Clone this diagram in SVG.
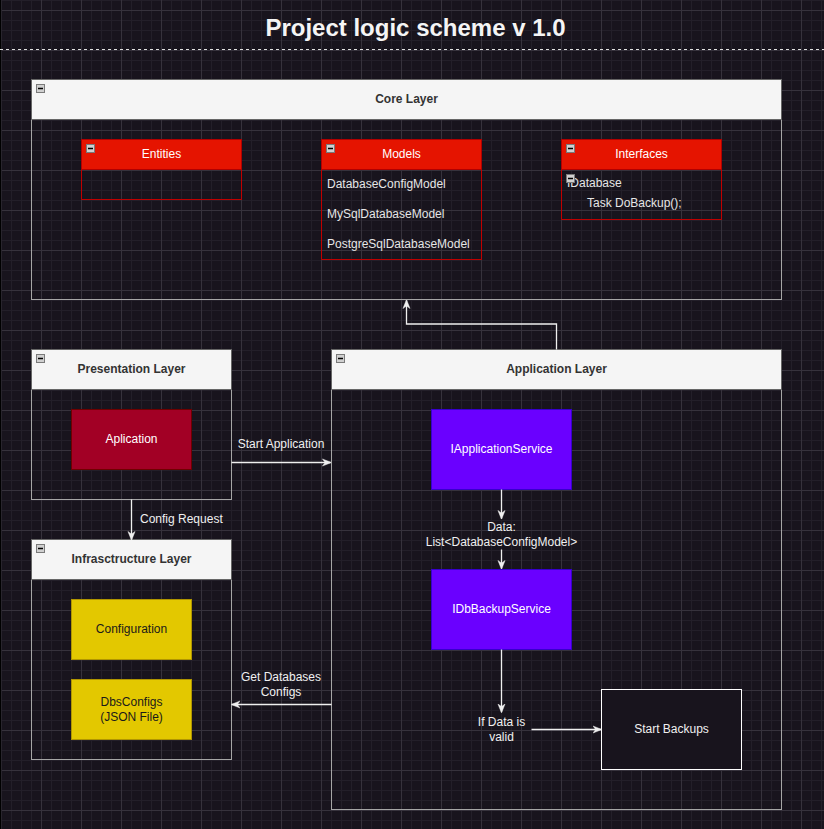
<svg xmlns="http://www.w3.org/2000/svg" width="824" height="829" viewBox="0 0 824 829">
  <defs>
    <!-- background grid: fine lines every 10px, stronger every 40px -->
    <pattern id="gridMinor" width="10" height="10" patternUnits="userSpaceOnUse" x="1" y="0">
      <path d="M0.5,0 V10 M0,0.5 H10" fill="none" stroke="#231f29" stroke-width="1"/>
    </pattern>
    <pattern id="gridMajor" width="40" height="40" patternUnits="userSpaceOnUse" x="1" y="10">
      <path d="M0.5,0 V40 M0,0.5 H40" fill="none" stroke="#36323c" stroke-width="1"/>
    </pattern>
    <marker id="arrow" viewBox="0 0 10 10" refX="9" refY="5" markerWidth="9" markerHeight="9" markerUnits="userSpaceOnUse" orient="auto">
      <path d="M0,1 L10,5 L0,9 L3,5 Z" fill="#f0f0f0" stroke="#f0f0f0" stroke-width="0.5"/>
    </marker>
    <g id="collapse">
      <rect x="0.5" y="0.5" width="8" height="8" fill="#d0d0d0" stroke="#7a7a7a" stroke-width="1"/>
      <path d="M2,4.5 H7" stroke="#000" stroke-width="1.5"/>
    </g>
  </defs>
  <style>
    text { font-family: "Liberation Sans", Arial, Helvetica, sans-serif; font-size: 12px; }
    .title { font-size: 24px; font-weight: bold; fill: #f5f5f5; text-anchor: middle; }
    .lane-body { fill: none; stroke: #a6a6a6; stroke-width: 1; }
    .lane-head { fill: #f5f5f5; stroke: #666666; stroke-width: 1; }
    .lane-title { font-weight: bold; fill: #333333; text-anchor: middle; }
    .cls-head { fill: #e51400; stroke: #b20000; stroke-width: 1; }
    .cls-body { fill: #18141d; fill-opacity: 0; stroke: #c00000; stroke-width: 1; }
    .cls-title { fill: #ffffff; text-anchor: middle; }
    .item { fill: #e6e6e6; }
    .app { fill: #a20025; stroke: #6f0000; }
    .svc { fill: #6a00ff; stroke: #3700cc; }
    .cfg { fill: #e3c800; stroke: #b09500; }
    .dark-box { fill: #18141d; stroke: #ffffff; }
    .light-text { fill: #ffffff; text-anchor: middle; }
    .dark-text { fill: #1a1a1a; text-anchor: middle; }
    .label { fill: #f0f0f0; text-anchor: middle; }
    .edge { fill: none; stroke: #f0f0f0; stroke-width: 1.3; marker-end: url(#arrow); }
  </style>

  <!-- canvas -->
  <rect width="824" height="829" fill="#18141d"/>
  <rect width="824" height="829" fill="url(#gridMinor)"/>
  <rect width="824" height="829" fill="url(#gridMajor)"/>
  <path d="M0.5,0 V829" stroke="#000000" stroke-width="1.5"/>

  <!-- heading -->
  <g id="title">
    <text class="title" x="415.5" y="36">Project logic scheme v 1.0</text>
    <path d="M0,49.5 H824" stroke="#e0e0e0" stroke-width="1" stroke-dasharray="3 3"/>
  </g>

  <!-- Core Layer -->
  <g id="core-layer">
    <rect class="lane-body" x="31.5" y="79.5" width="750" height="220"/>
    <rect class="lane-head" x="31.5" y="79.5" width="750" height="40"/>
    <use href="#collapse" x="36" y="84"/>
    <text class="lane-title" x="406.5" y="103">Core Layer</text>
  </g>

  <g id="entities">
    <path d="M81.5,169.5 V199.5 H241.5 V169.5" fill="none" stroke="#c00000" stroke-width="1"/>
    <rect class="cls-head" x="81.5" y="139.5" width="160" height="30"/>
    <use href="#collapse" x="86" y="144"/>
    <text class="cls-title" x="161.5" y="158">Entities</text>
  </g>

  <g id="models">
    <path d="M321.5,169.5 V259.5 H481.5 V169.5" fill="none" stroke="#c00000" stroke-width="1"/>
    <rect class="cls-head" x="321.5" y="139.5" width="160" height="30"/>
    <use href="#collapse" x="326" y="144"/>
    <text class="cls-title" x="401.5" y="158">Models</text>
    <text class="item" x="327" y="188">DatabaseConfigModel</text>
    <text class="item" x="327" y="218">MySqlDatabaseModel</text>
    <text class="item" x="327" y="248">PostgreSqlDatabaseModel</text>
  </g>

  <g id="interfaces">
    <path d="M561.5,169.5 V219.5 H721.5 V169.5" fill="none" stroke="#c00000" stroke-width="1"/>
    <rect class="cls-head" x="561.5" y="139.5" width="160" height="30"/>
    <use href="#collapse" x="566" y="144"/>
    <text class="cls-title" x="641.5" y="158">Interfaces</text>
    <text class="item" x="567" y="187">IDatabase</text>
    <use href="#collapse" x="566" y="174"/>
    <text class="item" x="587" y="207">Task DoBackup();</text>
  </g>

  <!-- Presentation Layer -->
  <g id="presentation-layer">
    <rect class="lane-body" x="31.5" y="349.5" width="200" height="150"/>
    <rect class="lane-head" x="31.5" y="349.5" width="200" height="40"/>
    <use href="#collapse" x="36" y="354"/>
    <text class="lane-title" x="131.5" y="373">Presentation Layer</text>
  </g>
  <g id="aplication">
    <rect class="app" x="71.5" y="409.5" width="120" height="60"/>
    <text class="light-text" x="131.5" y="443">Aplication</text>
  </g>

  <!-- Infrastructure Layer -->
  <g id="infrastructure-layer">
    <rect class="lane-body" x="31.5" y="539.5" width="200" height="220"/>
    <rect class="lane-head" x="31.5" y="539.5" width="200" height="40"/>
    <use href="#collapse" x="36" y="544"/>
    <text class="lane-title" x="131.5" y="563">Infrasctructure Layer</text>
  </g>
  <g id="configuration">
    <rect class="cfg" x="71.5" y="599.5" width="120" height="60"/>
    <text class="dark-text" x="131.5" y="633">Configuration</text>
  </g>
  <g id="dbs-configs">
    <rect class="cfg" x="71.5" y="679.5" width="120" height="60"/>
    <text class="dark-text" x="131.5" y="706">DbsConfigs</text>
    <text class="dark-text" x="131.5" y="721">(JSON File)</text>
  </g>

  <!-- Application Layer -->
  <g id="application-layer">
    <rect class="lane-body" x="331.5" y="349.5" width="450" height="460"/>
    <rect class="lane-head" x="331.5" y="349.5" width="450" height="40"/>
    <use href="#collapse" x="336" y="354"/>
    <text class="lane-title" x="556.5" y="373">Application Layer</text>
  </g>
  <g id="application-service">
    <rect class="svc" x="431.5" y="409.5" width="140" height="80"/>
    <text class="light-text" x="501.5" y="453">IApplicationService</text>
  </g>
  <g id="data-note">
    <text class="label" x="501.5" y="531">Data:</text>
    <text class="label" x="501.5" y="546">List&lt;DatabaseConfigModel&gt;</text>
  </g>
  <g id="backup-service">
    <rect class="svc" x="431.5" y="569.5" width="140" height="80"/>
    <text class="light-text" x="501.5" y="613">IDbBackupService</text>
  </g>
  <g id="validity-note">
    <text class="label" x="501.5" y="726">If Data is</text>
    <text class="label" x="501.5" y="741">valid</text>
  </g>
  <g id="start-backups">
    <rect class="dark-box" x="601.5" y="689.5" width="140" height="80"/>
    <text class="label" x="671.5" y="733">Start Backups</text>
  </g>

  <!-- connectors -->
  <g id="connectors">
    <path class="edge" d="M556.5,349.5 V324 H406.5 V300.5"/>
    <path class="edge" d="M231.5,462.5 H330.5"/>
    <text class="label" x="281" y="448">Start Application</text>
    <path class="edge" d="M131.5,499.5 V539.5"/>
    <text class="label" x="140" y="523" style="text-anchor:start">Config Request</text>
    <path class="edge" d="M501.5,489.5 V518.5"/>
    <path class="edge" d="M501.5,549.5 V568.5"/>
    <path class="edge" d="M501.5,649.5 V712"/>
    <path class="edge" d="M531.5,729.5 H601"/>
    <path class="edge" d="M331.5,704.5 H232"/>
    <text class="label" x="281" y="681">Get Databases</text>
    <text class="label" x="281" y="696">Configs</text>
  </g>
</svg>
